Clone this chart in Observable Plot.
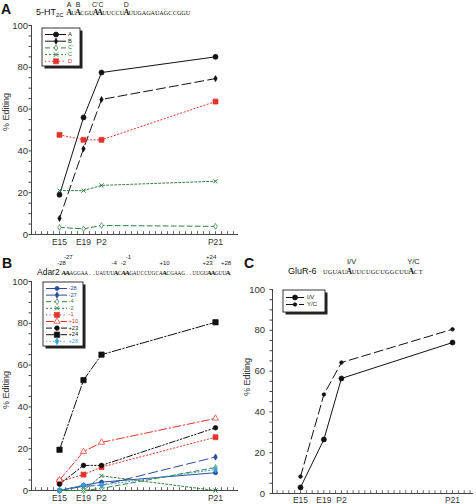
<!DOCTYPE html>
<html><head><meta charset="utf-8">
<script src="https://cdn.jsdelivr.net/npm/d3@7"></script>
<script src="https://cdn.jsdelivr.net/npm/@observablehq/plot@0.6"></script>
<style>
body{margin:0;background:#fff;}
#wrap{position:relative;width:476px;height:504px;overflow:hidden;font-family:"Liberation Sans",Arial,sans-serif;}
#wrap svg{position:absolute;}
</style></head><body><div id="wrap"></div>
<script>
// ---- data ----
const stages = ["E15", "E19", "P2", "P21"];
const stageDay = [15, 19, 22, 41];

// Panel A: 5-HT2C sites
const labelsA = ["A", "B", "C'", "C", "D"];
const serA_A  = [19, 56, 77.5, 85];
const serA_B  = [7.7, 41, 64.6, 74.6];
const serA_Cp = [3.4, 2.7, 4.3, 3.9];
const serA_C  = [21, 21, 23.5, 25.5];
const serA_D  = [47.7, 45.3, 45.3, 63.6];

// Panel B: Adar2 sites
const labelsB = ["-28", "-27", "-4", "-2", "-1", "+10", "+23", "+24", "+28"];
const serB_m28 = [0, 2.5, 4, 8.5];
const serB_m27 = [0, 2, 2.5, 16];
const serB_m4  = [0, 0, 1, 11];
const serB_m2  = [0, 0, 7, 0];
const serB_m1  = [4.3, 7.6, 11.2, 25.5];
const serB_p10 = [5, 18.6, 23, 34.5];
const serB_p23 = [3, 12, 12, 30];
const serB_p24 = [19.5, 52.8, 65, 80.5];
const serB_p28 = [0, 2.5, 2.5, 10];

// Panel C: GluR-6 sites
const labelsC = ["I/V", "Y/C"];
const serC_IV = [3, 26.5, 56.4, 74];
const serC_YC = [8.3, 48.5, 64.2, 80.5];

const yMajor = [0, 20, 40, 60, 80, 100];

// ---- styles ----
const K = "#111", BLUE = "#2d4b9b", GREEN = "#2f7f43", RED = "#e3342b", CYAN = "#3aa2d6";
const DASH = {solid: null, long: "9,4", dash: "5,3", dot: "2,2", fine: "1.2,2.3",
              dashdot: "8,2.5,1.5,2.5", dashdotdot: "6,2,1.5,2,1.5,2"};

const seriesA = [
  {label: labelsA[0], v: serA_A,  color: K,     dash: DASH.solid, sym: "circle",  r: 2.5, fill: K},
  {label: labelsA[1], v: serA_B,  color: K,     dash: DASH.long,  sym: "diamond", r: 1.8, fill: K},
  {label: labelsA[2], v: serA_Cp, color: GREEN, dash: DASH.dash,  sym: "diamond", r: 1.8, fill: "white"},
  {label: labelsA[3], v: serA_C,  color: GREEN, dash: DASH.dot,   sym: "times",   r: 2.0, fill: "none"},
  {label: labelsA[4], v: serA_D,  color: RED,   dash: DASH.fine,  sym: "square",  r: 2.8, fill: RED}
];
const seriesB = [
  {label: labelsB[0], v: serB_m28, color: BLUE,  dash: DASH.solid,      sym: "circle",   r: 2.1, fill: BLUE},
  {label: labelsB[1], v: serB_m27, color: BLUE,  dash: DASH.long,       sym: "diamond",  r: 1.9, fill: BLUE},
  {label: labelsB[2], v: serB_m4,  color: GREEN, dash: DASH.dash,       sym: "diamond",  r: 1.8, fill: "white"},
  {label: labelsB[3], v: serB_m2,  color: GREEN, dash: DASH.dot,        sym: "times",    r: 2.0, fill: "none"},
  {label: labelsB[4], v: serB_m1,  color: RED,   dash: DASH.fine,       sym: "square",   r: 2.8, fill: RED},
  {label: labelsB[5], v: serB_p10, color: RED,   dash: DASH.dashdot,    sym: "triangle", r: 2.3, fill: "white"},
  {label: labelsB[6], v: serB_p23, color: K,     dash: DASH.dashdotdot, sym: "circle",   r: 2.3, fill: K},
  {label: labelsB[7], v: serB_p24, color: K,     dash: "9,2,1.5,2",     sym: "square",   r: 3.0, fill: K},
  {label: labelsB[8], v: serB_p28, color: CYAN,  dash: DASH.fine,       sym: "diamond",  r: 2.0, fill: CYAN}
];
const seriesC = [
  {label: labelsC[0], v: serC_IV, color: K, dash: DASH.solid, sym: "circle", r: 2.5, fill: K},
  {label: labelsC[1], v: serC_YC, color: K, dash: DASH.long,  sym: "circle", r: 1.8, fill: K}
];

const rows = vals => vals.map((v, i) => ({day: stageDay[i], stage: stages[i], value: v}));

function makePanel(cfg) {
  const plotH = cfg.height - cfg.mT - cfg.mB;
  const pxPerUnit = plotH / 100;
  const marks = [
    Plot.ruleY([0], {stroke: "#444", strokeWidth: 1}),
    Plot.ruleX([cfg.xDomain[0]], {y1: 0, y2: 100, stroke: "#444", strokeWidth: 1}),
    Plot.axisY({ticks: d3.range(0, 101, 5), tickSize: 2.5, tickPadding: cfg.yPad,
      tickFormat: d => (yMajor.includes(d) ? String(d) : ""), fontSize: 9.5, fill: "#333", stroke: "#444"}),
    Plot.ruleX(d3.range(Math.ceil(cfg.xDomain[0]), Math.floor(cfg.xDomain[1]) + 1),
      {y1: 0, y2: 2.8 / pxPerUnit, stroke: "#444", strokeWidth: 0.8}),
    Plot.axisX({ticks: stageDay, tickSize: 0, tickPadding: cfg.xPad,
      tickFormat: d => stages[stageDay.indexOf(d)], fontSize: 8.5, fill: "#333"})
  ];
  for (const s of cfg.series) {
    marks.push(Plot.line(rows(s.v), {x: "day", y: "value", stroke: s.color, strokeWidth: 1,
      strokeDasharray: s.dash}));
  }
  for (const s of cfg.series) {
    marks.push(Plot.dot(rows(s.v), {x: "day", y: "value", symbol: s.sym, r: s.r,
      fill: s.fill, stroke: s.color, strokeWidth: s.sym === "times" ? 1 : 0.7}));
  }
  const svg = Plot.plot({
    width: cfg.width, height: cfg.height,
    marginLeft: cfg.mL, marginRight: cfg.mR, marginTop: cfg.mT, marginBottom: cfg.mB,
    x: {type: "linear", domain: cfg.xDomain, label: null},
    y: {type: "linear", domain: [0, 100], label: null},
    style: {fontFamily: "'Liberation Sans', Arial, sans-serif", background: "transparent", overflow: "visible"},
    marks
  });
  svg.style.left = cfg.left + "px";
  svg.style.top = cfg.top + "px";
  document.getElementById("wrap").appendChild(svg);
}

makePanel({series: seriesA, left: 0, top: 0, width: 250, height: 260,
  mL: 31, mR: 12, mT: 25, mB: 26, xDomain: [10.333, 44.833], yPad: 1, xPad: 4});
makePanel({series: seriesB, left: 0, top: 256, width: 250, height: 248,
  mL: 31, mR: 12, mT: 25, mB: 14, xDomain: [10.333, 44.833], yPad: 1, xPad: 4});
makePanel({series: seriesC, left: 240, top: 264, width: 236, height: 240,
  mL: 32, mR: 3, mT: 25, mB: 11, xDomain: [10.21, 44.59], yPad: 5, xPad: 3});

// ---- overlay: headers, y labels, legends ----
const ov = d3.select("#wrap").append("svg").attr("width", 476).attr("height", 504)
  .style("left", "0px").style("top", "0px").style("font-family", "'Liberation Sans', Arial, sans-serif");

// panel letters
[["A", 1, 14], ["B", 2, 268], ["C", 244, 268]].forEach(([t, x, y]) =>
  ov.append("text").attr("x", x).attr("y", y).attr("font-size", 14).attr("font-weight", "bold")
    .attr("fill", "#111").text(t));

// y-axis titles
[[7, 112], [7, 390], [248, 377]].forEach(([x, y]) =>
  ov.append("text").attr("transform", `translate(${x},${y}) rotate(-90)`).attr("text-anchor", "middle")
    .attr("dominant-baseline", "middle").attr("font-size", 9).attr("fill", "#333").text("% Editing"));

function drawSeq(x0, w, y, segs, small, big) {
  let i = 0;
  for (const [str, bold] of segs) {
    for (const ch of str) {
      ov.append("text").attr("x", x0 + (i + 0.5) * w).attr("y", y).attr("text-anchor", "middle")
        .attr("font-family", "'Liberation Serif', 'DejaVu Serif', serif")
        .attr("font-size", bold ? big : small).attr("font-weight", bold ? "bold" : "normal")
        .attr("fill", "#111").text(ch);
      i++;
    }
  }
}
function siteLabel(x0, w, idx, y, t, size) {
  ov.append("text").attr("x", x0 + (idx + 0.5) * w).attr("y", y).attr("text-anchor", "middle")
    .attr("font-size", size).attr("fill", "#222").text(t);
}

// Header A
const tA = ov.append("text").attr("x", 36).attr("y", 15).attr("font-size", 9).attr("fill", "#111");
tA.append("tspan").text("5-HT");
tA.append("tspan").attr("font-size", 6).attr("dy", 2).text("2C");
drawSeq(67, 4.4, 15, [["A",1],["U",0],["A",1],["CGU",0],["AA",1],["UUCCU",0],["A",1],["UUGAGAUAGCCGGU",0]], 6.2, 8);
siteLabel(67, 4.4, 0, 7, "A", 7);
siteLabel(67, 4.4, 2, 7, "B", 7);
siteLabel(67, 4.4, 6.5, 7, "C'C", 7);
siteLabel(67, 4.4, 13, 7, "D", 7);

// Header B
ov.append("text").attr("x", 37).attr("y", 275).attr("font-size", 8.5).attr("fill", "#111").text("Adar2");
drawSeq(62, 3.73, 275, [["AA",1],["AGGAA..UAUUU",0],["A",1],["C",0],["AA",1],["GAUCCUGCA",0],["A",1],
  ["CGAAG..UUGU",0],["AA",1],["GUU",0],["A",1]], 5.2, 7);
siteLabel(62, 3.73, -0.6, 265, "-28", 6);
siteLabel(62, 3.73, 1.2, 259, "-27", 6);
siteLabel(62, 3.73, 13.5, 265, "-4", 6);
siteLabel(62, 3.73, 16, 265, "-2", 6);
siteLabel(62, 3.73, 17.3, 259, "-1", 6);
siteLabel(62, 3.73, 27, 265, "+10", 6);
siteLabel(62, 3.73, 38.5, 265, "+23", 6);
siteLabel(62, 3.73, 39.5, 259, "+24", 6);
siteLabel(62, 3.73, 43.5, 265, "+28", 6);

// Header C
ov.append("text").attr("x", 288).attr("y", 274).attr("font-size", 9).attr("fill", "#111").text("GluR-6");
drawSeq(323, 4.76, 274, [["UGUAU",0],["A",1],["UUCUGCUGGCUU",0],["A",1],["CT",0]], 6.4, 8);
siteLabel(323, 4.76, 5.5, 264, "I/V", 7.5);
siteLabel(323, 4.76, 18.5, 264, "Y/C", 7.5);

// legends
const SYM = {circle: d3.symbolCircle, diamond: d3.symbolDiamond, square: d3.symbolSquare,
  triangle: d3.symbolTriangle, times: d3.symbolTimes};
function legend(series, bx, by, bw, bh, rowY0, rowDy, lx1, lx2, mx, tx, fs) {
  ov.append("rect").attr("x", bx + 2.5).attr("y", by + 2.5).attr("width", bw).attr("height", bh).attr("fill", "#222");
  ov.append("rect").attr("x", bx).attr("y", by).attr("width", bw).attr("height", bh)
    .attr("fill", "white").attr("stroke", "#222").attr("stroke-width", 0.9);
  series.forEach((s, i) => {
    const y = rowY0 + i * rowDy;
    ov.append("line").attr("x1", lx1).attr("x2", lx2).attr("y1", y).attr("y2", y)
      .attr("stroke", s.color).attr("stroke-width", 1).attr("stroke-dasharray", s.dash);
    ov.append("path").attr("transform", `translate(${mx},${y})`)
      .attr("d", d3.symbol(SYM[s.sym], Math.PI * s.r * s.r)())
      .attr("fill", s.fill).attr("stroke", s.color).attr("stroke-width", s.sym === "times" ? 1 : 0.7);
    ov.append("text").attr("x", tx).attr("y", y).attr("dominant-baseline", "middle")
      .attr("font-size", fs).attr("fill", s.color === K ? "#222" : s.color).text(s.label);
  });
}
legend(seriesA, 42, 28, 38, 38, 34.5, 6.7, 45, 66, 56, 68, 5.8);
legend(seriesB, 43, 282, 40, 64, 288.5, 6.6, 46, 67, 57, 68.5, 5.7);
legend(seriesC, 283, 290, 42, 22, 297.5, 7, 286, 304, 295, 307, 6);
</script></body></html>
